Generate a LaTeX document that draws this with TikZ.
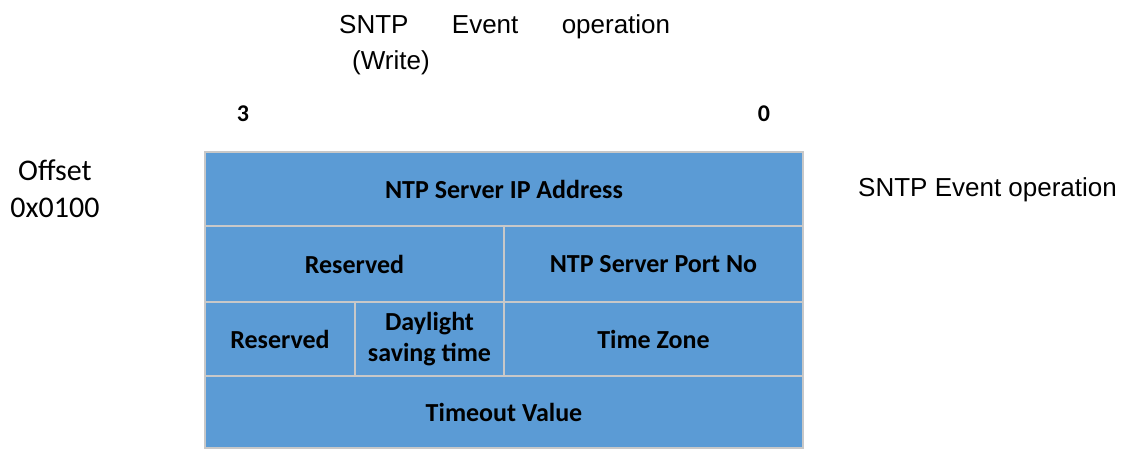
\documentclass[tikz,border=0pt]{standalone}
\usepackage{fontspec}
\setmainfont{Carlito}
\newfontfamily\arialfont{Liberation Sans}
\usetikzlibrary{positioning}
\definecolor{cellblue}{RGB}{91,155,213}
\definecolor{cellline}{RGB}{200,200,200}

\begin{document}
\begin{tikzpicture}[x=1pt,y=-1pt,
  cell/.style={draw=cellline,line width=2.5pt,fill=cellblue,inner sep=0pt,
    outer sep=0pt,align=center,font=\fontsize{26}{31}\selectfont\bfseries},
  bitno/.style={inner sep=0pt,font=\fontsize{24}{28}\selectfont\bfseries}]
\useasboundingbox (0,0) rectangle (1125,450);
% title
\node[anchor=north west,inner sep=0pt,text width=331pt,align=left,
  font=\arialfont\fontsize{26}{36}\selectfont] (title) at (339,14)
  {SNTP\hfill Event\hfill operation\\\hspace*{13pt}(Write)};
% bit numbers
\node[bitno] (msb) at (243,114) {3};
\node[bitno] (lsb) at (764,114) {0};
% offset
\node[anchor=north,inner sep=0pt,align=center,
  font=\fontsize{30}{37}\selectfont] (offset) at (55,160) {Offset\\0x0100};
% register cells
\node[cell,minimum width=598pt,minimum height=74pt,anchor=north west]
  (ipaddr) at (205,152) {NTP Server IP Address};
\node[cell,minimum width=299pt,minimum height=76pt,anchor=north west]
  (resv1) at (ipaddr.south west) {Reserved};
\node[cell,minimum width=299pt,minimum height=76pt,anchor=north west]
  (portno) at (resv1.north east) {NTP Server Port No};
\node[cell,minimum width=150pt,minimum height=74pt,anchor=north west]
  (resv2) at (resv1.south west) {Reserved};
\node[cell,minimum width=149pt,minimum height=74pt,anchor=north west]
  (daylight) at (resv2.north east) {Daylight\\saving time};
\node[cell,minimum width=299pt,minimum height=74pt,anchor=north west]
  (tzone) at (daylight.north east) {Time Zone};
\node[cell,minimum width=598pt,minimum height=72pt,anchor=north west]
  (timeout) at (resv2.south west) {Timeout Value};
% side label
\node[anchor=base west,inner sep=0pt,font=\arialfont\fontsize{26}{30}\selectfont]
  (oplabel) at (858,196) {SNTP Event operation};
\end{tikzpicture}
\end{document}
